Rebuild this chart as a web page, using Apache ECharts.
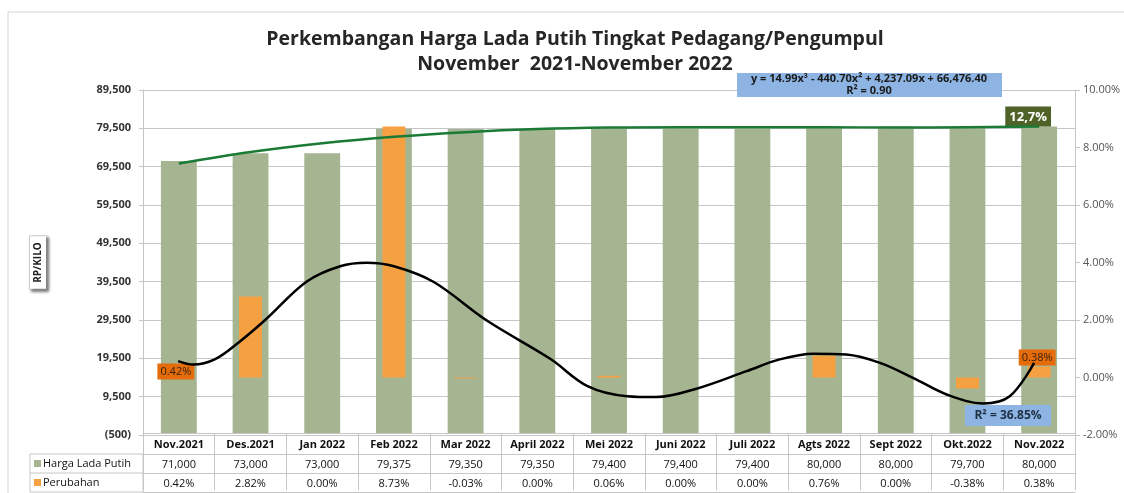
<!DOCTYPE html>
<html>
<head>
<meta charset="utf-8">
<title>Harga Lada Putih</title>
<script src="https://cdn.jsdelivr.net/npm/echarts@6/dist/echarts.min.js"></script>
<style>
  html, body { margin: 0; padding: 0; background: #fff; }
  #main { width: 1124px; height: 493px; }
</style>
</head>
<body>
<div id="main"></div>
<script>
// data
const categories = ['Nov.2021', 'Des.2021', 'Jan 2022', 'Feb 2022', 'Mar 2022', 'April 2022', 'Mei 2022',
  'Juni 2022', 'Juli 2022', 'Agts 2022', 'Sept 2022', 'Okt.2022', 'Nov.2022']
const hargaLada = [71000, 73000, 73000, 79375, 79350, 79350, 79400, 79400, 79400, 80000, 80000, 79700, 80000]
const perubahan = [0.42, 2.82, 0.00, 8.73, -0.03, 0.00, 0.06, 0.00, 0.00, 0.76, 0.00, -0.38, 0.38]

// trend lines (x = position along the category band, 0..13)
const trendHargaX = [0.5, 1.5, 2.5, 3.5, 4.5, 5.5, 6.5, 7.5, 8.5, 9.5, 10.5, 11.5, 12.5]
const trendHargaY = [70300, 73300, 75600, 77300, 78500, 79300, 79700, 79800, 79800, 79800, 79700, 79800, 80000]
const trendPerubahanX = [0.49, 0.7, 1.0, 1.33, 1.7, 2.28, 2.75, 3.12, 3.5, 4.05, 4.79, 5.68, 6.2,
  6.75, 7.16, 7.72, 8.42, 8.88, 9.35, 9.81, 10.28, 10.74, 11.21, 11.72, 12.09, 12.43]
const trendPerubahanY = [0.57, 0.45, 0.63, 1.21, 1.99, 3.33, 3.87, 3.99, 3.87, 3.33, 1.99, 0.65, -0.3,
  -0.65, -0.68, -0.39, 0.22, 0.63, 0.83, 0.80, 0.51, -0.01, -0.59, -0.90, -0.65, 0.51]

// tick labels / annotations
const leftTicks = { min: -500, max: 89500, interval: 10000 }
const rightTicks = { min: -2, max: 10, interval: 2 }
const rowLabels = ['Harga Lada Putih', 'Perubahan']
const totalChangeLabel = '12,7%'
const trendHargaText = 'y = 14.99x³ - 440.70x² + 4,237.09x + 66,476.40\nR² = 0.90'
const trendPerubahanText = 'R² = 36.85%'

// styles
const FONT = '"Open Sans", "Liberation Sans", sans-serif'
const GREEN = '#a5b592'
const ORANGE = '#f5a142'
const GRID = '#c6c6c6'
const last = categories.length - 1

const fmtNum = v => v < 0 ? '(' + Math.abs(v).toLocaleString('en-US') + ')' : v.toLocaleString('en-US')
const fmtPct = v => v.toFixed(2) + '%'

const chart = echarts.init(document.getElementById('main'), null, { renderer: 'canvas' })

const tableAxis = (offset, formatter, showLabel) => ({
  type: 'category',
  data: categories,
  position: 'bottom',
  offset: offset,
  axisLine: { show: true, lineStyle: { color: GRID } },
  axisTick: { show: false },
  axisLabel: {
    show: showLabel, interval: 0, margin: 5, fontSize: 11, color: '#111',
    fontFamily: FONT, formatter: formatter
  }
})

const option = {
  animation: false,
  backgroundColor: '#fff',
  title: {
    text: 'Perkembangan Harga Lada Putih Tingkat Pedagang/Pengumpul\nNovember  2021-November 2022',
    left: 570,
    top: 22,
    textAlign: 'center',
    textStyle: { fontFamily: FONT, fontSize: 19.5, fontWeight: 'bold', color: '#262626', lineHeight: 25 }
  },
  grid: { left: 143, right: 49, top: 90, bottom: 58 },
  xAxis: [
    {
      type: 'category',
      data: categories,
      position: 'bottom',
      axisLine: { show: true, lineStyle: { color: GRID } },
      axisTick: { show: true, length: 57, lineStyle: { color: GRID } },
      axisLabel: { interval: 0, margin: 4, fontSize: 11, fontWeight: 'bold', color: '#111', fontFamily: FONT }
    },
    { type: 'category', data: categories, show: false },
    { type: 'value', min: 0, max: categories.length, show: false },
    tableAxis(19, (v, i) => fmtNum(hargaLada[i]), true),
    tableAxis(38, (v, i) => fmtPct(perubahan[i]), true),
    tableAxis(57, '', false)
  ],
  yAxis: [
    {
      type: 'value',
      min: leftTicks.min, max: leftTicks.max, interval: leftTicks.interval,
      name: 'RP/KILO',
      nameLocation: 'middle',
      nameRotate: 90,
      nameGap: 97,
      nameTextStyle: {
        fontFamily: FONT, fontSize: 10, fontWeight: 'bold', color: '#222',
        backgroundColor: '#fff', borderColor: '#d0d0d0', borderWidth: 1, padding: [3, 6],
        shadowColor: 'rgba(0,0,0,0.45)', shadowBlur: 3, shadowOffsetX: 2, shadowOffsetY: 2
      },
      axisLine: { show: true, lineStyle: { color: GRID } },
      axisTick: { show: true, length: 4, lineStyle: { color: GRID } },
      splitLine: { show: true, lineStyle: { color: GRID } },
      axisLabel: { margin: 12, fontSize: 11, fontWeight: 'bold', color: '#333', fontFamily: FONT, formatter: fmtNum }
    },
    {
      type: 'value',
      position: 'right',
      min: rightTicks.min, max: rightTicks.max, interval: rightTicks.interval,
      axisLine: { show: true, lineStyle: { color: GRID } },
      axisTick: { show: true, length: 5, lineStyle: { color: GRID } },
      splitLine: { show: false },
      axisLabel: { margin: 8, fontSize: 11, color: '#555', fontFamily: FONT, formatter: fmtPct }
    }
  ],
  series: [
    {
      name: rowLabels[0],
      type: 'bar',
      xAxisIndex: 0, yAxisIndex: 0,
      barWidth: '50%',
      itemStyle: { color: GREEN },
      z: 2,
      data: hargaLada.map((v, i) => i !== last ? v : {
        value: v,
        label: {
          show: true, position: 'top', distance: 0, offset: [-11, 0],
          formatter: totalChangeLabel, fontFamily: FONT, fontSize: 13, fontWeight: 'bold',
          color: '#fff', backgroundColor: '#4f6228', padding: [4, 4, 3, 4]
        }
      })
    },
    {
      name: rowLabels[1],
      type: 'bar',
      xAxisIndex: 1, yAxisIndex: 1,
      barWidth: '32%',
      itemStyle: { color: ORANGE },
      z: 3,
      data: perubahan.map((v, i) => {
        if (i === 0 || i === last) {
          return {
            value: v,
            label: {
              show: true, position: i === 0 ? 'inside' : 'top', distance: 1, offset: i === 0 ? [-3, 0] : [-2, 0],
              formatter: p => fmtPct(p.value), fontFamily: FONT, fontSize: 11,
              color: '#3b2210', backgroundColor: '#e46c0a', padding: [3, 3, 2, 3]
            }
          }
        }
        return v
      })
    },
    {
      name: 'Trend Harga',
      type: 'line',
      xAxisIndex: 2, yAxisIndex: 0,
      smooth: 0.4,
      symbol: 'none',
      z: 4,
      lineStyle: { color: '#1b7a35', width: 2.5 },
      data: trendHargaX.map((x, i) => [x, trendHargaY[i]])
    },
    {
      name: 'Trend Perubahan',
      type: 'line',
      xAxisIndex: 2, yAxisIndex: 1,
      smooth: 0.35,
      symbol: 'none',
      z: 4,
      lineStyle: { color: '#000', width: 2.5 },
      data: trendPerubahanX.map((x, i) => [x, trendPerubahanY[i]])
    }
  ],
  graphic: [
    {
      type: 'rect', silent: true, z: -1,
      shape: { x: 8, y: 12, width: 1130, height: 500 },
      style: { fill: 'none', stroke: '#d4d4d4', lineWidth: 1 }
    },
    // row label column of the table
    {
      type: 'rect', silent: true,
      shape: { x: 30, y: 454, width: 113, height: 38 },
      style: { fill: 'none', stroke: GRID, lineWidth: 1 }
    },
    {
      type: 'line', silent: true,
      shape: { x1: 30, y1: 473, x2: 143, y2: 473 },
      style: { stroke: GRID, lineWidth: 1 }
    },
    { type: 'rect', silent: true, shape: { x: 34, y: 460, width: 7, height: 7 }, style: { fill: GREEN } },
    { type: 'rect', silent: true, shape: { x: 34, y: 479, width: 7, height: 7 }, style: { fill: ORANGE } },
    {
      type: 'text', silent: true, x: 43, y: 464,
      style: { text: rowLabels[0], fontFamily: FONT, fontSize: 11, fill: '#111', verticalAlign: 'middle' }
    },
    {
      type: 'text', silent: true, x: 43, y: 483,
      style: { text: rowLabels[1], fontFamily: FONT, fontSize: 11, fill: '#111', verticalAlign: 'middle' }
    },
    // trend annotations
    {
      type: 'rect', silent: true, z: 10,
      shape: { x: 737, y: 73, width: 265, height: 24 },
      style: { fill: '#8db4e2' }
    },
    {
      type: 'text', silent: true, z: 11, x: 869, y: 85,
      style: {
        text: trendHargaText, fontFamily: FONT, fontSize: 11, fontWeight: 'bold', fill: '#1a1a1a',
        align: 'center', verticalAlign: 'middle', lineHeight: 11.5
      }
    },
    {
      type: 'rect', silent: true, z: 10,
      shape: { x: 965, y: 405, width: 86, height: 21 },
      style: { fill: '#8db4e2' }
    },
    {
      type: 'text', silent: true, z: 11, x: 1008, y: 416,
      style: {
        text: trendPerubahanText, fontFamily: FONT, fontSize: 12, fontWeight: 'bold', fill: '#1f2f45',
        align: 'center', verticalAlign: 'middle'
      }
    }
  ]
}

chart.setOption(option)
</script>
</body>
</html>
